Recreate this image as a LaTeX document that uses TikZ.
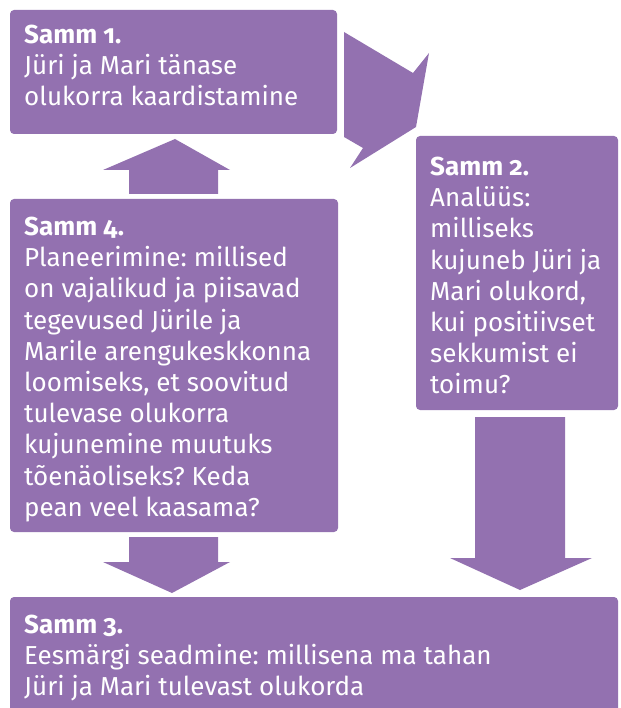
\documentclass[tikz,border=0pt]{standalone}
\usepackage{fontspec}
\setmainfont{Fira Sans}[Numbers=OldStyle]
\frenchspacing
\definecolor{lila}{RGB}{147,113,176}
\tikzset{
  box/.style={fill=lila, rounded corners=4pt},
  arr/.style={fill=lila},
  txt/.style={text=white, anchor=north west, inner sep=0pt, align=left, font=\fontsize{26}{31.2}\selectfont},
}
\def\asc{18.2}
\begin{document}
\begin{tikzpicture}[x=1pt,y=-1pt]
\useasboundingbox (0,0) rectangle (620,708);
% boxes
\path[box] (10,10) rectangle (337,134);
\path[box] (416,136) rectangle (618,410);
\path[box] (10,199) rectangle (338,532);
\path[box] (10,597) rectangle (618,716);
% arrows
\path[arr] (344,32) -- (413,73) -- (429,53) -- (416,127) -- (350,168) -- (363,148) -- (344,137) -- cycle;
\path[arr] (129,194) -- (129,170) -- (103,170) -- (175,139) -- (230,170) -- (218,170) -- (218,194) -- cycle;
\path[arr] (129,537) -- (218,537) -- (218,562) -- (230,562) -- (172,593) -- (103,562) -- (129,562) -- cycle;
\path[arr] (475,417) -- (565,417) -- (565,558) -- (592,558) -- (520,590) -- (450,558) -- (475,558) -- cycle;
% texts
\node[txt] (t1) at (24,43-\asc) {\textbf{Samm 1.}\\Jüri ja Mari tänase\\olukorra kaardistamine};
\node[txt] (t2) at (430,175-\asc) {\textbf{Samm 2.}\\Analüüs:\\milliseks\\kujuneb Jüri ja\\Mari olukord,\\kui positiivset\\sekkumist ei\\toimu?};
\node[txt] (t4) at (24,235-\asc) {\textbf{Samm 4.}\\Planeerimine: millised\\on vajalikud ja piisavad\\tegevused Jürile ja\\Marile arengukeskkonna\\loomiseks, et soovitud\\tulevase olukorra\\kujunemine muutuks\\tõenäoliseks? Keda\\pean veel kaasama?};
\node[txt,font=\fontsize{26}{31}\selectfont] (t3) at (24,633-\asc) {\textbf{Samm 3.}\\Eesmärgi seadmine: millisena ma tahan\\Jüri ja Mari tulevast olukorda};
\end{tikzpicture}
\end{document}
